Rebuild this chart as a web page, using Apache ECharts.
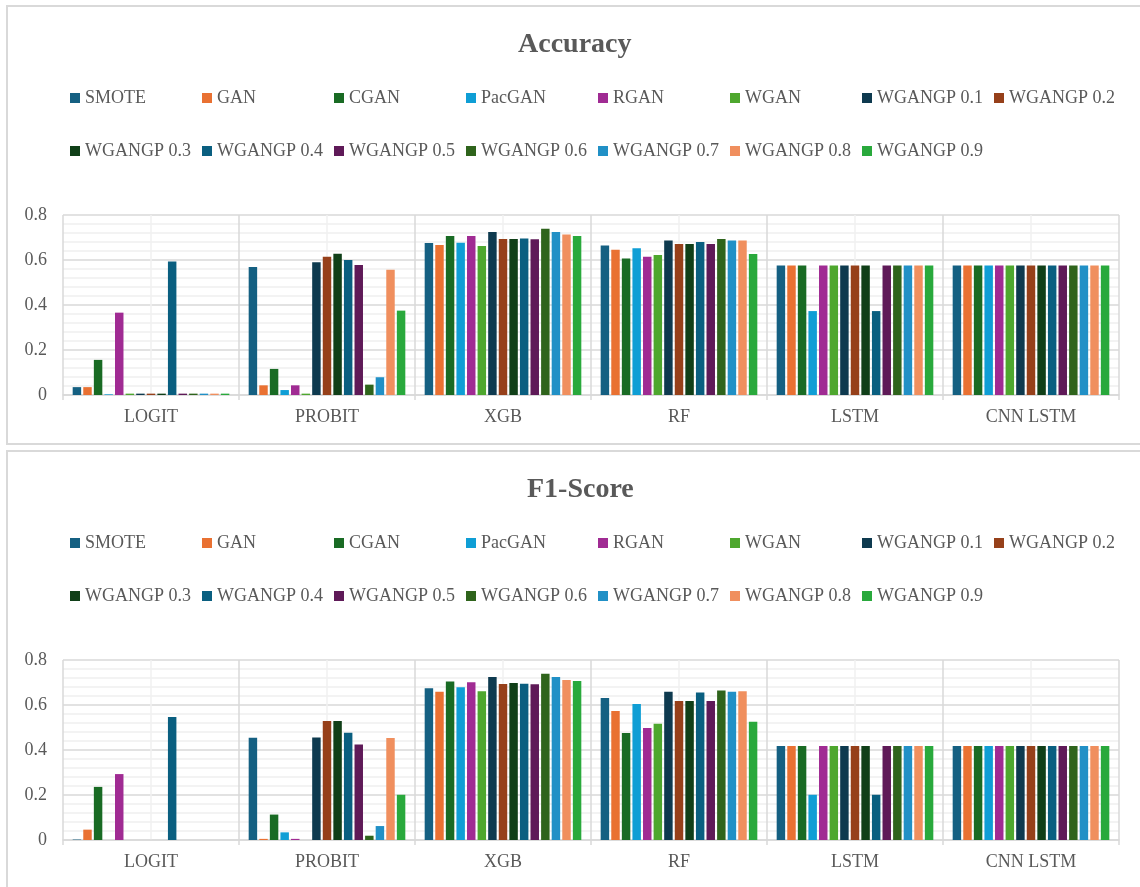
<!DOCTYPE html>
<html>
<head>
<meta charset="utf-8">
<script src="https://cdn.jsdelivr.net/npm/echarts@6/dist/echarts.min.js"></script>
<style>
  html, body { margin: 0; padding: 0; background: #fff; }
  #chart { width: 1140px; height: 887px; }
</style>
</head>
<body>
<div id="chart"></div>
<script>
// Models on the category axis
const categories = ['LOGIT', 'PROBIT', 'XGB', 'RF', 'LSTM', 'CNN LSTM'];

// Oversampling methods (one bar series each)
const methods = ['SMOTE', 'GAN', 'CGAN', 'PacGAN', 'RGAN', 'WGAN',
  'WGANGP 0.1', 'WGANGP 0.2', 'WGANGP 0.3', 'WGANGP 0.4', 'WGANGP 0.5',
  'WGANGP 0.6', 'WGANGP 0.7', 'WGANGP 0.8', 'WGANGP 0.9'];

// Y axis tick labels
const yTicks = [0, 0.2, 0.4, 0.6, 0.8];

// Accuracy per method, ordered as categories
const accSMOTE   = [0.035, 0.569, 0.676, 0.664, 0.576, 0.576];
const accGAN     = [0.035, 0.043, 0.667, 0.646, 0.576, 0.576];
const accCGAN    = [0.156, 0.116, 0.707, 0.607, 0.576, 0.576];
const accPacGAN  = [0.003, 0.022, 0.677, 0.652, 0.373, 0.576];
const accRGAN    = [0.366, 0.043, 0.707, 0.615, 0.576, 0.576];
const accWGAN    = [0.006, 0.006, 0.662, 0.622, 0.576, 0.576];
const accGP01    = [0.006, 0.590, 0.724, 0.687, 0.576, 0.576];
const accGP02    = [0.006, 0.615, 0.693, 0.671, 0.576, 0.576];
const accGP03    = [0.006, 0.628, 0.693, 0.671, 0.576, 0.576];
const accGP04    = [0.593, 0.600, 0.696, 0.680, 0.373, 0.576];
const accGP05    = [0.006, 0.578, 0.692, 0.671, 0.576, 0.576];
const accGP06    = [0.006, 0.046, 0.739, 0.693, 0.576, 0.576];
const accGP07    = [0.006, 0.079, 0.724, 0.687, 0.576, 0.576];
const accGP08    = [0.006, 0.557, 0.713, 0.687, 0.576, 0.576];
const accGP09    = [0.006, 0.375, 0.707, 0.627, 0.576, 0.576];

// F1-score per method, ordered as categories
const f1SMOTE    = [0.002, 0.455, 0.674, 0.631, 0.418, 0.418];
const f1GAN      = [0.046, 0.005, 0.659, 0.573, 0.418, 0.418];
const f1CGAN     = [0.236, 0.113, 0.704, 0.476, 0.418, 0.418];
const f1PacGAN   = [0, 0.034, 0.679, 0.604, 0.201, 0.418];
const f1RGAN     = [0.293, 0.005, 0.701, 0.498, 0.418, 0.418];
const f1WGAN     = [0, 0, 0.661, 0.517, 0.418, 0.418];
const f1GP01     = [0, 0.456, 0.724, 0.659, 0.418, 0.418];
const f1GP02     = [0, 0.529, 0.693, 0.618, 0.418, 0.418];
const f1GP03     = [0, 0.529, 0.698, 0.618, 0.418, 0.418];
const f1GP04     = [0.547, 0.477, 0.695, 0.656, 0.201, 0.418];
const f1GP05     = [0, 0.424, 0.692, 0.618, 0.418, 0.418];
const f1GP06     = [0, 0.019, 0.739, 0.665, 0.418, 0.418];
const f1GP07     = [0, 0.062, 0.724, 0.659, 0.418, 0.418];
const f1GP08     = [0, 0.453, 0.711, 0.661, 0.418, 0.418];
const f1GP09     = [0, 0.201, 0.707, 0.526, 0.418, 0.418];

const accuracy = [accSMOTE, accGAN, accCGAN, accPacGAN, accRGAN, accWGAN,
  accGP01, accGP02, accGP03, accGP04, accGP05, accGP06, accGP07, accGP08, accGP09];
const f1score = [f1SMOTE, f1GAN, f1CGAN, f1PacGAN, f1RGAN, f1WGAN,
  f1GP01, f1GP02, f1GP03, f1GP04, f1GP05, f1GP06, f1GP07, f1GP08, f1GP09];

// Series colours
const palette = ['#156082', '#E97132', '#196B24', '#0F9ED5', '#A02B93', '#4EA72E',
  '#0E3A4F', '#96401A', '#103F18', '#0A5F80', '#5F1A58', '#2F641C',
  '#2190C6', '#F08F5E', '#29A93C'];

const FONT = '"Liberation Serif", "Times New Roman", serif';
const TEXT = '#595959';
const GRID_DARK = '#d9d9d9';
const GRID_LIGHT = '#f0f0f0';

const panels = [
  { title: 'Accuracy', titleLeft: 513, data: accuracy, off: 0 },
  { title: 'F1-Score', titleLeft: 522, data: f1score, off: 445 }
];

const option = {
  animation: false,
  backgroundColor: '#fff',
  color: palette,
  title: [], legend: [], grid: [], xAxis: [], yAxis: [], series: [],
  graphic: []
};

panels.forEach((p, i) => {
  option.graphic.push({
    type: 'rect', silent: true,
    shape: { x: 7, y: 6 + p.off, width: 1150, height: 438 },
    style: { fill: 'none', stroke: GRID_DARK, lineWidth: 2 }
  });
  option.title.push({
    text: p.title, left: p.titleLeft, top: 26 + p.off,
    textStyle: { fontFamily: FONT, fontSize: 28, fontWeight: 'bold', color: TEXT }
  });
  // legend laid out on a fixed 132px column grid, 8 entries per row
  methods.forEach((name, k) => {
    const row = k < 8 ? 0 : 1;
    const col = k < 8 ? k : k - 8;
    option.legend.push({
      data: [name], left: 65 + 132 * col, top: 84 + 53 * row + p.off,
      icon: 'rect', itemWidth: 10, itemHeight: 10,
      textStyle: { fontFamily: FONT, fontSize: 18, color: TEXT }
    });
  });
  option.grid.push({ left: 63, top: 215 + p.off, width: 1056, height: 180 });
  option.xAxis.push({
    type: 'category', gridIndex: i, data: categories,
    axisLine: { lineStyle: { color: GRID_DARK, width: 1.5 } },
    axisTick: { show: true, length: 5, lineStyle: { color: GRID_DARK, width: 1.5 } },
    axisLabel: { fontFamily: FONT, fontSize: 18, color: TEXT, margin: 13 },
    splitLine: { show: false }
  });
  // vertical grid: category boundaries (dark) and category centres (light)
  option.xAxis.push({
    type: 'value', gridIndex: i, min: 0, max: 12, interval: 1,
    axisLine: { show: false }, axisTick: { show: false }, axisLabel: { show: false },
    splitLine: { show: true, lineStyle: { color: [GRID_DARK, GRID_LIGHT], width: 1.5 } }
  });
  option.yAxis.push({
    type: 'value', gridIndex: i, min: yTicks[0], max: yTicks[yTicks.length - 1], interval: 0.2,
    axisLine: { show: false }, axisTick: { show: false },
    axisLabel: { fontFamily: FONT, fontSize: 18, color: TEXT, margin: 16 },
    splitLine: { lineStyle: { color: GRID_DARK, width: 1.5 } },
    minorTick: { show: false, splitNumber: 5 },
    minorSplitLine: { show: true, lineStyle: { color: GRID_LIGHT, width: 1.5 } }
  });
  methods.forEach((name, k) => {
    option.series.push({
      name: name, type: 'bar', xAxisIndex: 2 * i, yAxisIndex: i,
      data: p.data[k],
      barCategoryGap: '11%', barGap: '25%',
      itemStyle: { color: palette[k] }
    });
  });
});

const chart = echarts.init(document.getElementById('chart'), null, { renderer: 'canvas' });
chart.setOption(option);
</script>
</body>
</html>
